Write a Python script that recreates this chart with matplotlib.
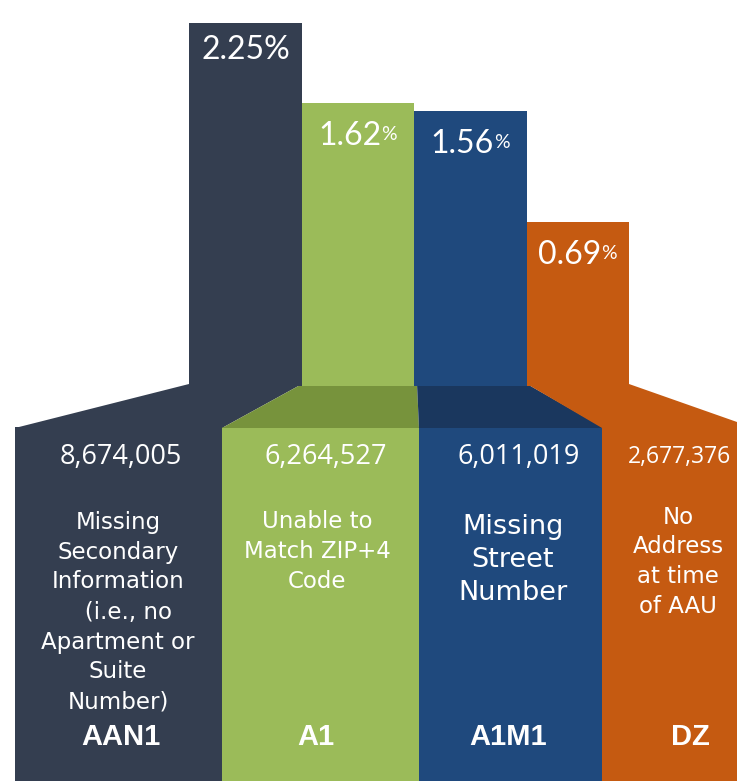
import matplotlib
matplotlib.use("Agg")
import matplotlib.pyplot as plt
from matplotlib.patches import Polygon, Rectangle

# --- data ---
codes = ["AAN1", "A1", "A1M1", "DZ"]
pct = [2.25, 1.62, 1.56, 0.69]
counts = [8674005, 6264527, 6011019, 2677376]
descriptions = [
    "Missing\nSecondary\nInformation\n   (i.e., no\nApartment or\nSuite\nNumber)",
    "Unable to\nMatch ZIP+4\nCode",
    "Missing\nStreet\nNumber",
    "No\nAddress\nat time\nof AAU",
]

# --- styling / layout (pixel units of a 737x781 canvas) ---
W, H = 737, 781
colors = ["#343E50", "#9BBB59", "#1F497D", "#C55A11"]
dark_colors = ["#343E50", "#77933C", "#1A375E", "#C55A11"]
bar_widths = [1, 1, 1, 0.91]
bar_left_px, bar_unit_px, bar_bottom_px = 189, 112.5, 386
y_base, y_top = -0.60, 2.43          # value range of the upper bar strip
panel_edges = [15, 222, 419, 602, W]
panel_top = 428

fig = plt.figure(figsize=(W / 100, H / 100), dpi=100)
bg = fig.add_axes([0, 0, 1, 1])
bg.set_xlim(0, W)
bg.set_ylim(H, 0)
bg.axis("off")

# lower panels
for i in range(4):
    bg.add_patch(Rectangle((panel_edges[i], panel_top - 1), panel_edges[i + 1] - panel_edges[i],
                           H - panel_top + 2, color=colors[i], lw=0))

# funnel pieces joining the bars to the panels
t, b = bar_bottom_px - 2, panel_top
traps = [
    [(189, t), (302, t), (222, b), (15, b)],
    [(302, t), (417, t), (419, b), (222, b)],
    [(417, t), (527, t), (604, b), (419, b)],
    [(527, t), (629, t), (W, 422), (W, b), (602, b)],
]
for pts, c in zip(traps, dark_colors):
    bg.add_patch(Polygon(pts, closed=True, color=c, lw=0))

# counts
count_x = [121, 326, 519, 680]
count_size = [19.5, 19.5, 19.5, 16.5]
for x, n, fs in zip(count_x, counts, count_size):
    bg.text(x, 457, f"{n:,}", color="white", fontsize=fs, family="Open Sans",
            ha="center", va="center")

# descriptions
desc_x = [118, 317, 513, 678]
desc_y0 = [522, 522, 527, 517]
desc_step = [30, 29.5, 33, 29.7]
desc_size = [16.5, 16.5, 19.5, 16.5]
for i, d in enumerate(descriptions):
    for j, line in enumerate(d.split("\n")):
        bg.text(desc_x[i], desc_y0[i] + j * desc_step[i], line, color="white",
                fontsize=desc_size[i], family="DejaVu Sans", ha="center", va="center")

# codes
code_x = [121, 316, 508, 690]
for x, c in zip(code_x, codes):
    bg.text(x, 737, c, color="white", fontsize=21, fontweight="bold",
            family="Liberation Sans", ha="center", va="center")

# upper bars, drawn on their own value axis
ax = fig.add_axes([bar_left_px / W, (H - bar_bottom_px) / H,
                   4 * bar_unit_px / W, bar_bottom_px / H])
ax.patch.set_alpha(0)
ax.axis("off")
ax.set_xlim(0, 4)
ax.set_ylim(y_base, y_top)
xs = list(range(4))
ax.bar(xs, [v - y_base for v in pct], bottom=y_base, width=bar_widths,
       align="edge", color=colors, lw=0)

pct_font = ["Lato", "DejaVu Sans"]
for i, v in enumerate(pct):
    xc = xs[i] + bar_widths[i] / 2
    if i == 0:
        ax.annotate(f"{v:.2f}%", xy=(xc, v), xytext=(1, -27), textcoords="offset pixels",
                    color="white", fontsize=23, fontweight="normal", family=pct_font,
                    ha="center", va="center")
    else:
        num = ax.annotate(f"{v:.2f}", xy=(xc, v), xytext=(-8, -33), textcoords="offset pixels",
                          color="white", fontsize=23, fontweight="normal", family=pct_font,
                          ha="center", va="center")
        ax.annotate("%", xy=(1, 1), xycoords=num, xytext=(0, -5), textcoords="offset pixels",
                    color="white", fontsize=14, fontweight="normal", family=pct_font,
                    ha="left", va="top")

fig.savefig("out.png", dpi=100)
